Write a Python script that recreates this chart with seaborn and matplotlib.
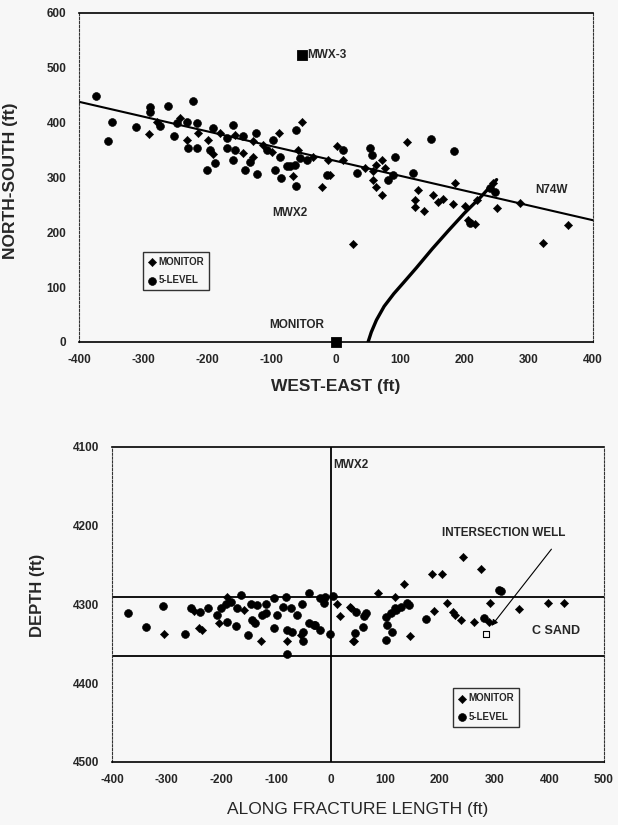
import numpy as np
import pandas as pd
import seaborn as sns
import matplotlib.pyplot as plt

# ---- top panel data (plan view) ----
top_mon_x = [-290.6, -279, -243, -232, -214, -191, -199, -180.5, -157, -144, -129, -129, -113,
             -100, -88, -53, -59, -66.5, -35, -22, -12, 1, 11, -9, 45, 58, 63, 71, 58, 63, 71, 76,
             111, 185, 128, 123, 123, 137, 151, 159, 167, 181.5, 201, 206, 216, 219, 245, 250,
             286, 361.6, 321.6, 27]
top_mon_y = [380, 402, 408, 369, 381, 343, 369, 381, 378, 344, 338, 366, 359,
             347, 381, 402, 350, 302, 338, 283, 332, 358, 332, 305, 317, 311, 323, 332, 296, 283, 268, 317,
             364, 290, 277, 259, 247, 238, 268, 256, 260, 252, 248, 223, 215, 259, 290, 244,
             253, 213.5, 180, 179]

top_lvl_x = [-373.5, -355, -348, -311, -289.5, -290, -262, -222, -274, -252, -247, -232, -230,
             -217, -217, -201, -196, -188, -191, -170, -170, -161, -157, -160, -144, -141.6, -134,
             -124.5, -123, -108, -97.6, -95, -87, -85.6, -77, -72, -64, -62, -56, -62, -45.6,
             -14.5, 11, 33, 53, 55.5, 81, 89, 92, 120, 148, 184, 208.6, 240, 247.5]
top_lvl_y = [449, 367, 402, 392, 429, 420, 431, 440, 393, 376, 400, 402, 353,
             400, 353, 314, 350, 326, 390, 372, 353, 396, 350, 332, 375, 314, 329,
             381, 306.5, 350, 369, 314, 338, 299, 320, 320, 323, 387, 335, 285, 332,
             305, 350, 309, 353, 341, 296, 305, 338, 309, 370, 349, 217, 280, 274]

# N74W trend line and fracture trace
trend_x = [-400, 400]
trend_y = [438, 222]
frac_x = [50, 55, 63, 75, 90, 105, 125, 150, 175, 200, 225, 250]
frac_y = [0, 18, 40, 65, 88, 108, 135, 170, 203, 235, 264, 296]

# ---- bottom panel data (side view) ----
bot_mon_x = [-305, -250, -241, -235, -204, -189, -158.5, -127, -79, -53.6, 12, 17, 35, 43,
             242.6, 275.5, 186, 204, 134, 86.5, 117, 213, 291, 344, 397, 426.5, 36.6, 189,
             224, 41.5, 146, 227, 238, 263, 289]
bot_mon_y = [4337, 4308, 4330, 4332, 4324, 4290, 4307, 4346, 4347, 4339, 4300, 4315, 4303, 4346,
             4240, 4255, 4261, 4261, 4274, 4286, 4291, 4298, 4298, 4306, 4298, 4298, 4305, 4308,
             4309, 4346, 4340, 4313, 4320, 4322, 4322]

bot_lvl_x = [-370.5, -338, -306, -267, -256, -239, -224, -208, -201, -192, -189, -181.5, -174,
             -170.5, -164.5, -151, -146, -143, -139, -134, -125, -119, -119, -103.6, -103.6,
             -97.5, -86.5, -82, -79, -79, -73, -70, -61, -52, -50, -50, -39.6, -39, -29, -19.5,
             -19.5, -12, -9.5, -1, 5, 46, 44, 60, 61.5, 307.7, 311, 64, 110, 117, 140, -30.5,
             100.5, 119, 128, 143, 103.6, 113, 102, 173.7, 280]
bot_lvl_y = [4311, 4328, 4302, 4337, 4305, 4310, 4304, 4313, 4305, 4299, 4322, 4296.5, 4327,
             4305, 4288, 4339, 4299, 4320, 4324, 4301, 4313, 4299, 4311, 4330, 4292,
             4313, 4303, 4290, 4332.5, 4363, 4305, 4335, 4313, 4299, 4347, 4335, 4286, 4324, 4326, 4332.5,
             4292, 4298, 4290, 4337, 4289, 4309, 4336, 4328, 4315, 4282, 4283, 4311, 4311, 4305, 4298.5, 4326,
             4315.5, 4307, 4303, 4301, 4326, 4334.5, 4345, 4319, 4317.5]

sand_top = 4290
sand_bottom = 4366

sns.set_style("white")
plt.rcParams['font.family'] = ['Liberation Sans', 'DejaVu Sans']
plt.rcParams['font.weight'] = 'bold'
plt.rcParams['axes.labelweight'] = 'bold'
plt.rcParams['axes.unicode_minus'] = False
bg = '#f7f7f7'

fig = plt.figure(figsize=(6.18, 8.25), dpi=100, facecolor=bg)
ax1 = fig.add_axes([0.1278, 0.5855, 0.8317, 0.3988], facecolor=bg)
ax2 = fig.add_axes([0.1812, 0.0764, 0.7961, 0.3818], facecolor=bg)

# ---------------- top panel ----------------
sns.lineplot(x=trend_x, y=trend_y, color='black', lw=1.5, ax=ax1)
sns.lineplot(x=frac_x, y=frac_y, color='black', lw=2.4, ax=ax1, sort=False)
sns.scatterplot(x=top_mon_x, y=top_mon_y, marker='D', s=18, color='black', edgecolor='black',
                label='MONITOR', ax=ax1, zorder=3)
sns.scatterplot(x=top_lvl_x, y=top_lvl_y, marker='o', s=32, color='black', edgecolor='black',
                label='5-LEVEL', ax=ax1, zorder=3)
sns.scatterplot(x=[0, -53], y=[0, 524], marker='s', s=55, color='black', edgecolor='black',
                ax=ax1, clip_on=False, zorder=4, legend=False)

ax1.text(-45, 524, 'MWX-3', fontsize=8.5, va='center', ha='left')
ax1.text(-61, 31, 'MONITOR', fontsize=8.5, va='center', ha='center')
ax1.text(-72, 235, 'MWX2', fontsize=8.5, va='center', ha='center')
ax1.text(336, 277, 'N74W', fontsize=8.5, va='center', ha='center')

ax1.set_xlim(-400, 400)
ax1.set_ylim(0, 600)
ax1.set_xticks(range(-400, 401, 100))
ax1.set_yticks(range(0, 601, 100))
ax1.set_xlabel('WEST-EAST (ft)', fontsize=12.5, labelpad=9)
ax1.set_ylabel('NORTH-SOUTH (ft)', fontsize=12.5)
ax1.yaxis.set_label_coords(-0.119, 0.49)
ax1.tick_params(axis='both', direction='inout', length=4, width=0.7, labelsize=8.5, pad=7)

leg1 = ax1.legend(loc='upper left', bbox_to_anchor=(0.124, 0.274), borderaxespad=0,
                  fontsize=7, frameon=True, fancybox=False, handletextpad=0.1,
                  handlelength=1.0, labelspacing=0.9, borderpad=0.5)
leg1.get_frame().set_edgecolor('black')
leg1.get_frame().set_facecolor(bg)
leg1.get_frame().set_linewidth(1.0)

# ---------------- bottom panel ----------------
ax2.axhline(sand_top, color='black', lw=1.3)
ax2.axhline(sand_bottom, color='black', lw=1.3)
ax2.axvline(0, color='black', lw=1.3)
sns.scatterplot(x=bot_mon_x, y=bot_mon_y, marker='D', s=18, color='black', edgecolor='black',
                label='MONITOR', ax=ax2, zorder=3)
sns.scatterplot(x=bot_lvl_x, y=bot_lvl_y, marker='o', s=32, color='black', edgecolor='black',
                label='5-LEVEL', ax=ax2, zorder=3)
sns.scatterplot(x=[285], y=[4337], marker='s', s=16, facecolor=bg, edgecolor='black',
                linewidth=0.8, ax=ax2, zorder=4, legend=False)

ax2.annotate('', xy=(291, 4330), xytext=(407, 4227),
             arrowprops=dict(arrowstyle='-|>', color='black', lw=0.8, mutation_scale=9))
ax2.text(317, 4209, 'INTERSECTION WELL', fontsize=8.5, va='center', ha='center')
ax2.text(413, 4334, 'C SAND', fontsize=9, va='center', ha='center')
ax2.text(5, 4123, 'MWX2', fontsize=8.5, va='center', ha='left')

ax2.set_xlim(-400, 500)
ax2.set_ylim(4500, 4100)
ax2.set_xticks(range(-400, 501, 100))
ax2.set_yticks(range(4100, 4501, 100))
ax2.set_xlabel('ALONG FRACTURE LENGTH (ft)', fontsize=12.5, fontweight='normal', labelpad=11)
ax2.set_ylabel('DEPTH (ft)', fontsize=12)
ax2.yaxis.set_label_coords(-0.136, 0.53)
ax2.tick_params(axis='both', direction='inout', length=4, width=0.7, labelsize=8.5, pad=7)

leg2 = ax2.legend(loc='upper left', bbox_to_anchor=(0.6925, 0.234), borderaxespad=0,
                  fontsize=7, frameon=True, fancybox=False, handletextpad=0.1,
                  handlelength=1.0, labelspacing=0.9, borderpad=0.5)
leg2.get_frame().set_edgecolor('black')
leg2.get_frame().set_facecolor(bg)
leg2.get_frame().set_linewidth(1.0)

for ax in (ax1, ax2):
    for side in ('left', 'right'):
        ax.spines[side].set_linestyle((0, (2, 1.5)))
        ax.spines[side].set_linewidth(0.8)
        ax.spines[side].set_color('#333333')
    for side in ('top', 'bottom'):
        ax.spines[side].set_linewidth(1.2)
        ax.spines[side].set_color('black')

plt.savefig('out.png', dpi=100, facecolor=bg)
